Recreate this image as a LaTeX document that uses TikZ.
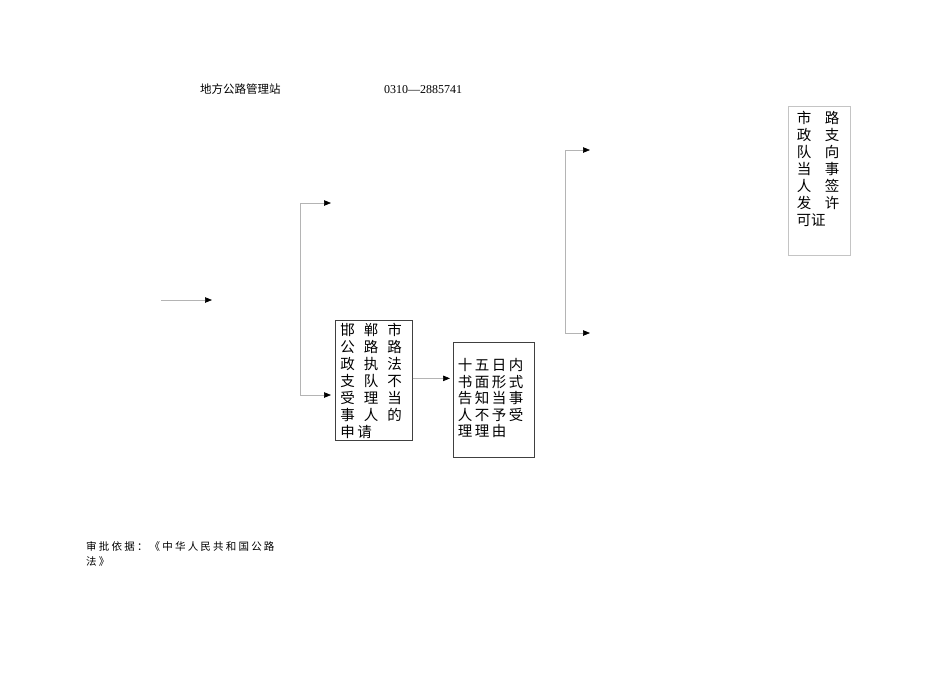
\documentclass[tikz,border=0pt]{standalone}
\usepackage{fontspec}
\setmainfont{Liberation Serif}
\newfontfamily\cjk{Noto Sans CJK SC}
\usetikzlibrary{arrows.meta}
\definecolor{linegray}{HTML}{B4B4B4}
\definecolor{boxdark}{HTML}{404040}
\definecolor{boxlight}{HTML}{C4C4C4}
\newcommand\zc[1]{\makebox[17pt]{#1}}
\newcommand\zs[1]{\makebox[12.7pt][l]{#1}}
\begin{document}
\begin{tikzpicture}[x=1pt,y=-1pt,
  line/.style={draw=linegray, line width=0.7pt},
  conn/.style={line, -{Triangle[length=7pt,width=5.5pt,color=black]}},
  dbox/.style={draw=boxdark, line width=0.7pt, inner sep=0pt},
  lbox/.style={draw=boxlight, line width=0.7pt, inner sep=0pt},
  txt/.style={inner sep=0pt, anchor=base west, align=left}]
\useasboundingbox[fill=white] (0,0) rectangle (950,672);

% header
\node[txt, font=\cjk\fontsize{11.5pt}{14pt}\selectfont] (h1) at (200,93.5) {地方公路管理站};
\node[txt, font=\fontsize{12pt}{14pt}\selectfont] (h2) at (384,93.5) {0310—2885741};

% boxes
\node[dbox, minimum width=77pt, minimum height=120pt, anchor=north west] (box1) at (335,320) {};
\node[dbox, minimum width=81pt, minimum height=115pt, anchor=north west] (box2) at (453,342) {};
\node[lbox, minimum width=62pt, minimum height=149pt, anchor=north west] (box3) at (788,106) {};

% box texts
\node[txt, text width=76pt, font=\cjk\fontsize{14.5pt}{17pt}\selectfont] (t1) at (339,335.5)
 {\zc{邯}\hspace{6.5pt}\zc{郸}\hspace{6.5pt}\zc{市}\\
  \zc{公}\hspace{6.5pt}\zc{路}\hspace{6.5pt}\zc{路}\\
  \zc{政}\hspace{6.5pt}\zc{执}\hspace{6.5pt}\zc{法}\\
  \zc{支}\hspace{6.5pt}\zc{队}\hspace{6.5pt}\zc{不}\\
  \zc{受}\hspace{6.5pt}\zc{理}\hspace{6.5pt}\zc{当}\\
  \zc{事}\hspace{6.5pt}\zc{人}\hspace{6.5pt}\zc{的}\\
  \zc{申}\zc{请}};
\node[txt, text width=76pt, font=\cjk\fontsize{14.5pt}{16.5pt}\selectfont] (t2) at (456.5,370.5)
 {\zc{十}\zc{五}\zc{日}\zc{内}\\
  \zc{书}\zc{面}\zc{形}\zc{式}\\
  \zc{告}\zc{知}\zc{当}\zc{事}\\
  \zc{人}\zc{不}\zc{予}\zc{受}\\
  \zc{理}\zc{理}\zc{由}};
\node[txt, text width=60pt, font=\cjk\fontsize{14.5pt}{17pt}\selectfont] (t3) at (795.5,123)
 {\zc{市}\hspace{11pt}\zc{路}\\
  \zc{政}\hspace{11pt}\zc{支}\\
  \zc{队}\hspace{11pt}\zc{向}\\
  \zc{当}\hspace{11pt}\zc{事}\\
  \zc{人}\hspace{11pt}\zc{签}\\
  \zc{发}\hspace{11pt}\zc{许}\\
  \hspace{1pt}可证};

% bottom text
\node[txt, text width=220pt, font=\cjk\fontsize{10.5pt}{15pt}\selectfont] (basis) at (86,550)
 {\zs{审}\zs{批}\zs{依}\zs{据}\zs{：}\zs{《}\zs{中}\zs{华}\zs{人}\zs{民}\zs{共}\zs{和}\zs{国}\zs{公}\zs{路}\\
  \zs{法}\zs{》}};

% connectors
\coordinate (a0) at (161,300);
\coordinate (a1) at (212,300);
\draw[conn] (a0) -- (a1);

\coordinate (j1t) at (300,203);
\coordinate (j1b) at (300,395);
\coordinate (e1t) at (331,203);
\draw[line] (j1t) -- (j1b);
\draw[conn] (j1t) -- (e1t);
\draw[conn, shorten >=4pt] (j1b) -- (j1b -| box1.west);

\draw[conn, shorten >=3pt] ([yshift=2pt]box1.east) -- ([yshift=2pt]box1.east -| box2.west);

\coordinate (j2t) at (565,150);
\coordinate (j2b) at (565,333);
\coordinate (e2t) at (590,150);
\coordinate (e2b) at (590,333);
\draw[line] (j2t) -- (j2b);
\draw[conn] (j2t) -- (e2t);
\draw[conn] (j2b) -- (e2b);
\end{tikzpicture}
\end{document}
